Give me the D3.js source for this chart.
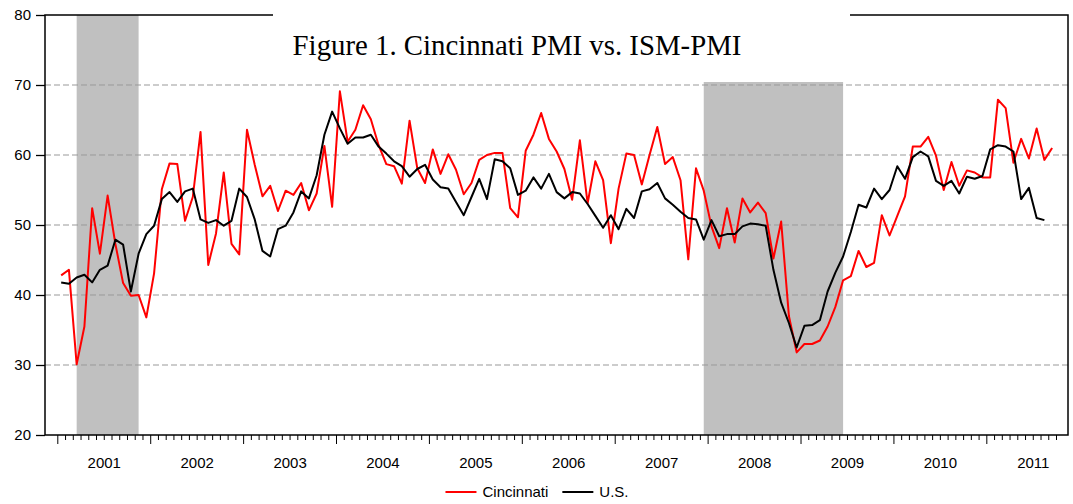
<!DOCTYPE html>
<html>
<head>
<meta charset="utf-8">
<script src="https://cdn.jsdelivr.net/npm/d3@7"></script>
<style>
  body { margin: 0; background: #fff; }
  #chart { width: 1073px; height: 504px; }
  text { font-family: "Liberation Sans", Arial, sans-serif; }
</style>
</head>
<body>
<div id="chart"></div>
<script>
// monthly index readings, first value is Jan 2001
const cincinnati = [
  42.8, 43.6, 30.1, 35.5, 52.4, 45.9, 54.2, 47.3, 41.7, 39.9, 40.0, 36.8,
  43.1, 55.1, 58.8, 58.7, 50.6, 54.0, 63.3, 44.3, 48.8, 57.5, 47.3, 45.8,
  63.6, 58.6, 54.1, 55.6, 52.0, 54.9, 54.3, 56.0, 52.1, 54.5, 61.3, 52.6,
  69.1, 61.9, 63.6, 67.1, 65.1, 61.4, 58.7, 58.4, 55.9, 64.9, 58.1, 56.0,
  60.8, 57.3, 60.1, 57.9, 54.4, 56.0, 59.3, 60.0, 60.3, 60.3, 52.4, 51.1,
  60.6, 62.9, 66.0, 62.3, 60.5, 58.0, 53.6, 62.1, 53.1, 59.1, 56.4, 47.4,
  55.2, 60.2, 60.0, 55.8, 60.0, 64.0, 58.7, 59.7, 56.4, 45.1, 58.1, 54.9,
  49.8, 46.7, 52.4, 47.5, 53.8, 51.8, 53.2, 51.7, 45.2, 50.5, 37.0, 31.8,
  33.0, 33.0, 33.5, 35.5, 38.3, 42.1, 42.7, 46.3, 44.0, 44.6, 51.4, 48.5,
  51.3, 54.1, 61.2, 61.2, 62.6, 59.9, 55.0, 59.0, 55.6, 57.8, 57.5, 56.8,
  56.8, 67.9, 66.7, 58.9, 62.3, 59.5, 63.8, 59.3, 61.0
];

const us = [
  41.8, 41.6, 42.5, 42.9, 41.8, 43.6, 44.2, 47.9, 47.2, 40.5, 45.9, 48.7,
  49.9, 53.7, 54.7, 53.3, 54.8, 55.2, 50.8, 50.3, 50.7, 49.9, 50.6, 55.2,
  54.0, 50.8, 46.3, 45.5, 49.4, 49.9, 51.8, 54.8, 53.8, 57.1, 62.9, 66.2,
  63.8, 61.6, 62.5, 62.5, 62.9, 61.2, 60.2, 59.1, 58.4, 56.9, 58.0, 58.6,
  56.5, 55.4, 55.2, 53.3, 51.4, 54.0, 56.6, 53.7, 59.4, 59.1, 58.1, 54.3,
  54.9, 56.8, 55.2, 57.3, 54.7, 53.8, 54.7, 54.5, 53.0, 51.3, 49.6, 51.4,
  49.4, 52.3, 51.0, 54.8, 55.1, 56.0, 53.8, 52.9, 51.9, 51.0, 50.8, 47.9,
  50.7, 48.4, 48.7, 48.7, 49.8, 50.2, 50.1, 49.9, 43.6, 38.9, 36.0, 32.5,
  35.6, 35.7, 36.4, 40.5, 43.2, 45.5, 49.0, 52.9, 52.5, 55.2, 53.7, 55.0,
  58.4, 56.6, 59.7, 60.5, 59.8, 56.3, 55.6, 56.3, 54.5, 56.9, 56.6, 57.0,
  60.8, 61.4, 61.2, 60.5, 53.7, 55.3, 51.0, 50.7
];

const yearLabels = ['2001', '2002', '2003', '2004', '2005', '2006', '2007', '2008', '2009', '2010', '2011'];
const yTicks = [20, 30, 40, 50, 60, 70, 80];
const gridValues = [30, 40, 50, 60, 70];

// shaded recessions, month index (Jan 2001 = 0) of first and last month
const recessions = [[2, 10], [83, 101]];

const seriesNames = ['Cincinnati', 'U.S.'];
const seriesColors = ['#ff0000', '#000000'];
const titleText = 'Figure 1. Cincinnati PMI vs. ISM-PMI';

// chart margin definition
const margin = {top: 15, right: 5, bottom: 69, left: 45};
const totalWidth = 1073, totalHeight = 504;
const width = totalWidth - margin.left - margin.right;
const height = totalHeight - margin.top - margin.bottom;

const svg = d3.select('#chart').append('svg')
  .attr('width', totalWidth)
  .attr('height', totalHeight);

const g = svg.append('g')
  .attr('transform', 'translate(' + margin.left + ',' + margin.top + ')');

// x runs in months from Jan 2001, the axis starts a bit before that
const xScale = d3.scaleLinear()
  .domain([-1.59, 130.55])
  .range([0, width]);

const yScale = d3.scaleLinear()
  .domain([20, 80])
  .range([height, 0]);

// recession bands, from mid-month to mid-month
g.selectAll('.band')
  .data(recessions)
  .enter().append('rect')
  .attr('class', 'band')
  .attr('x', d => xScale(d[0] + 0.5))
  .attr('width', d => xScale(d[1] + 0.5) - xScale(d[0] + 0.5))
  .attr('y', 0)
  .attr('height', height)
  .attr('fill', '#c0c0c0');

// dashed grid
g.selectAll('.grid')
  .data(gridValues)
  .enter().append('line')
  .attr('class', 'grid')
  .attr('x1', 0).attr('x2', width)
  .attr('y1', d => yScale(d)).attr('y2', d => yScale(d))
  .attr('stroke', '#999')
  .attr('stroke-width', 1)
  .attr('stroke-dasharray', '6,3');

// lines
const line = d3.line()
  .x((d, i) => xScale(i + 0.5))
  .y(d => yScale(d));

[cincinnati, us].forEach((series, k) => {
  g.append('path')
    .datum(series)
    .attr('fill', 'none')
    .attr('stroke', seriesColors[k])
    .attr('stroke-width', 2)
    .attr('stroke-linejoin', 'round')
    .attr('d', line);
});

// y axis
const yAxis = g.append('g')
  .call(d3.axisLeft(yScale).tickValues(yTicks).tickSize(9).tickPadding(5).tickFormat(d3.format('d')));
yAxis.select('.domain').remove();
yAxis.selectAll('line').attr('stroke', '#000').attr('stroke-width', 1.3);
yAxis.selectAll('text').attr('font-size', 15).attr('fill', '#000');

// month ticks, longer at each new year
const monthAxis = g.append('g')
  .attr('transform', 'translate(0,' + height + ')')
  .call(d3.axisBottom(xScale).tickValues(d3.range(0, 130)).tickSize(5).tickFormat(''));
monthAxis.select('.domain').remove();
monthAxis.selectAll('.tick line')
  .attr('stroke', '#000')
  .attr('y2', d => d % 12 === 0 ? 9 : 5);

// year labels in the middle of each year
const yearAxis = g.append('g')
  .attr('transform', 'translate(0,' + height + ')')
  .call(d3.axisBottom(xScale)
    .tickValues(yearLabels.map((y, i) => i * 12 + 6))
    .tickSize(0).tickPadding(22)
    .tickFormat((d, i) => yearLabels[i]));
yearAxis.select('.domain').remove();
yearAxis.selectAll('text').attr('font-size', 15).attr('fill', '#000');

// frame
g.append('rect')
  .attr('x', 0).attr('y', 0)
  .attr('width', width).attr('height', height)
  .attr('fill', 'none')
  .attr('stroke', '#000')
  .attr('stroke-width', 1.5);

// title sits on a white box over the top of the frame
svg.append('rect')
  .attr('x', 273).attr('y', 0)
  .attr('width', 577).attr('height', 82)
  .attr('fill', '#fff');

svg.append('text')
  .attr('x', 517)
  .attr('y', 55)
  .attr('text-anchor', 'middle')
  .style('font-family', '"Liberation Serif", "Times New Roman", serif')
  .attr('font-size', 28.8)
  .attr('fill', '#000')
  .text(titleText);

// legend
const legend = svg.append('g');
let lx = 0;
seriesNames.forEach((name, k) => {
  legend.append('line')
    .attr('x1', lx).attr('x2', lx + 31)
    .attr('y1', 0).attr('y2', 0)
    .attr('stroke', seriesColors[k])
    .attr('stroke-width', 2);
  const t = legend.append('text')
    .attr('x', lx + 37).attr('y', 5)
    .attr('font-size', 15)
    .attr('fill', '#000')
    .text(name);
  lx += 37 + t.node().getComputedTextLength() + 14;
});
const legendWidth = lx - 14;
legend.attr('transform', 'translate(' + (537 - legendWidth / 2) + ',492)');
</script>
</body>
</html>
